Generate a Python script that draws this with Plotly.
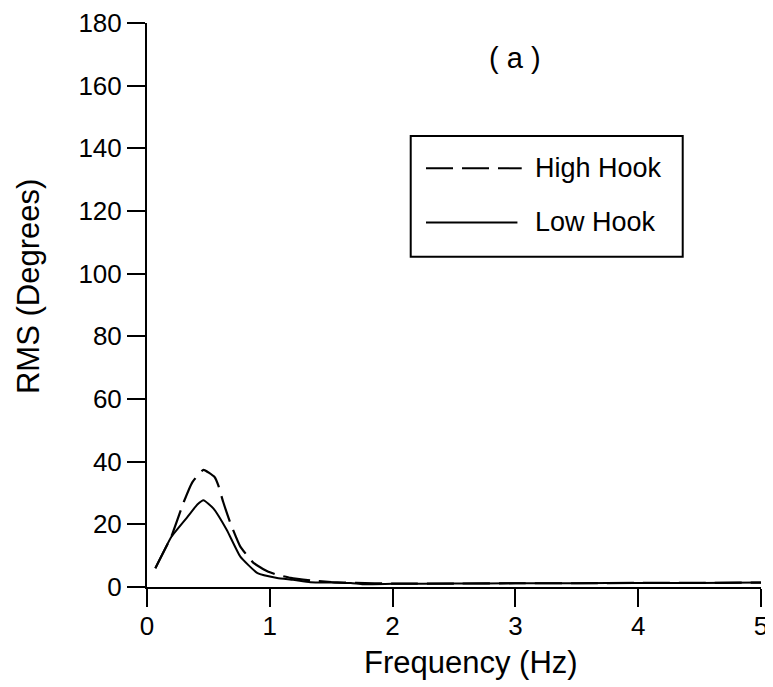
import plotly.graph_objects as go

# ---- data ----
freq_low = [0.068, 0.2, 0.33, 0.41, 0.46, 0.54, 0.65, 0.76, 0.9, 1.06, 1.19, 1.33,
            1.5, 1.66, 1.76, 2.0, 2.5, 3.0, 3.5, 4.0, 4.5, 5.0]
rms_low = [6.0, 16.1, 22.4, 26.3, 27.7, 25.1, 18.2, 9.7, 4.4, 2.9, 2.3, 1.5,
           1.4, 1.3, 0.9, 1.0, 1.1, 1.2, 1.2, 1.3, 1.3, 1.4]

freq_high = [0.068, 0.2, 0.3, 0.37, 0.46, 0.55, 0.58, 0.62, 0.68, 0.76, 0.87, 0.98,
             1.06, 1.17, 1.35, 1.5, 1.7, 2.0, 2.5, 3.0, 3.5, 4.0, 4.5, 5.0]
rms_high = [6.0, 16.3, 27.2, 33.5, 37.4, 35.1, 32.5, 27.2, 20.3, 12.9, 7.6, 5.0,
            3.9, 2.9, 2.0, 1.6, 1.3, 1.1, 1.1, 1.2, 1.2, 1.3, 1.3, 1.4]

series_names = ["High Hook", "Low Hook"]
x_ticks = [0, 1, 2, 3, 4, 5]
y_ticks = [0, 20, 40, 60, 80, 100, 120, 140, 160, 180]
panel_label = "( a )"
x_title = "Frequency (Hz)"
y_title = "RMS (Degrees)"

FONT = "Liberation Sans, Arial, Helvetica, sans-serif"
BLACK = "black"

fig = go.Figure()
fig.add_trace(go.Scatter(x=freq_high, y=rms_high, mode="lines", name=series_names[0],
                         line=dict(color=BLACK, width=2.2, dash="27px,9px", shape="spline", smoothing=0.4),
                         showlegend=False))
fig.add_trace(go.Scatter(x=freq_low, y=rms_low, mode="lines", name=series_names[1],
                         line=dict(color=BLACK, width=2, shape="spline", smoothing=0.4),
                         showlegend=False))

# manual legend box (matches the wide line samples of the original)
fig.add_shape(type="rect", xref="paper", yref="paper", x0=0.4295, x1=0.8725, y0=0.5856, y1=0.7996,
              line=dict(color=BLACK, width=2), fillcolor="white", layer="above")
fig.add_shape(type="line", xref="paper", yref="paper", x0=0.4544, x1=0.6103, y0=0.7424, y1=0.7424,
              line=dict(color=BLACK, width=2, dash="27px,9px"))
fig.add_shape(type="line", xref="paper", yref="paper", x0=0.4544, x1=0.6033, y0=0.6463, y1=0.6463,
              line=dict(color=BLACK, width=2))
fig.add_annotation(xref="paper", yref="paper", x=0.6287, y=0.7424, text=series_names[0],
                   showarrow=False, xanchor="left", yanchor="middle",
                   font=dict(family=FONT, size=27, color=BLACK))
fig.add_annotation(xref="paper", yref="paper", x=0.6287, y=0.6477, text=series_names[1],
                   showarrow=False, xanchor="left", yanchor="middle",
                   font=dict(family=FONT, size=27, color=BLACK))

fig.add_annotation(x=3.0, y=168.7, text=panel_label, showarrow=False,
                   xanchor="center", yanchor="middle",
                   font=dict(family=FONT, size=29, color=BLACK))

# axis titles (placed as in the original, slightly off-centre)
fig.add_annotation(xref="paper", yref="paper", x=0.5277, y=-0.1339, text=x_title,
                   showarrow=False, xanchor="center", yanchor="middle",
                   font=dict(family=FONT, size=31, color=BLACK))
fig.add_annotation(xref="paper", yref="paper", x=-0.1938, y=0.5319, text=y_title,
                   showarrow=False, xanchor="center", yanchor="middle", textangle=-90,
                   font=dict(family=FONT, size=31, color=BLACK))

fig.update_layout(
    width=765, height=679,
    margin=dict(l=139, r=12, t=15, b=100),
    paper_bgcolor="white", plot_bgcolor="white",
    font=dict(family=FONT, color=BLACK),
    showlegend=False,
    xaxis=dict(
        range=[0, 5], tickvals=x_ticks, ticktext=[str(v) for v in x_ticks],
        showgrid=False, zeroline=False, showline=True, linecolor=BLACK, linewidth=2,
        ticks="outside", ticklen=18, tickwidth=2, tickcolor=BLACK, ticklabelstandoff=-3,
        ticklabeloverflow="allow",
        tickfont=dict(family=FONT, size=26, color=BLACK), automargin=False,
    ),
    yaxis=dict(
        range=[0, 180], tickvals=y_ticks, ticktext=[str(v) for v in y_ticks],
        showgrid=False, zeroline=False, showline=True, linecolor=BLACK, linewidth=2,
        ticks="outside", ticklen=18, tickwidth=2, tickcolor=BLACK,
        ticklabeloverflow="allow",
        tickfont=dict(family=FONT, size=26, color=BLACK), automargin=False,
    ),
    # overlay axes that add the short inner part of the crossing tick marks
    xaxis2=dict(
        overlaying="x", anchor="y", side="bottom", range=[0, 5], tickvals=x_ticks,
        showticklabels=False, showgrid=False, zeroline=False, showline=False,
        ticks="inside", ticklen=7, tickwidth=2, tickcolor=BLACK,
    ),
    yaxis2=dict(
        overlaying="y", anchor="x", side="left", range=[0, 180], tickvals=y_ticks,
        showticklabels=False, showgrid=False, zeroline=False, showline=False,
        ticks="inside", ticklen=6, tickwidth=2, tickcolor=BLACK,
    ),
)

fig.write_html("out.html")
